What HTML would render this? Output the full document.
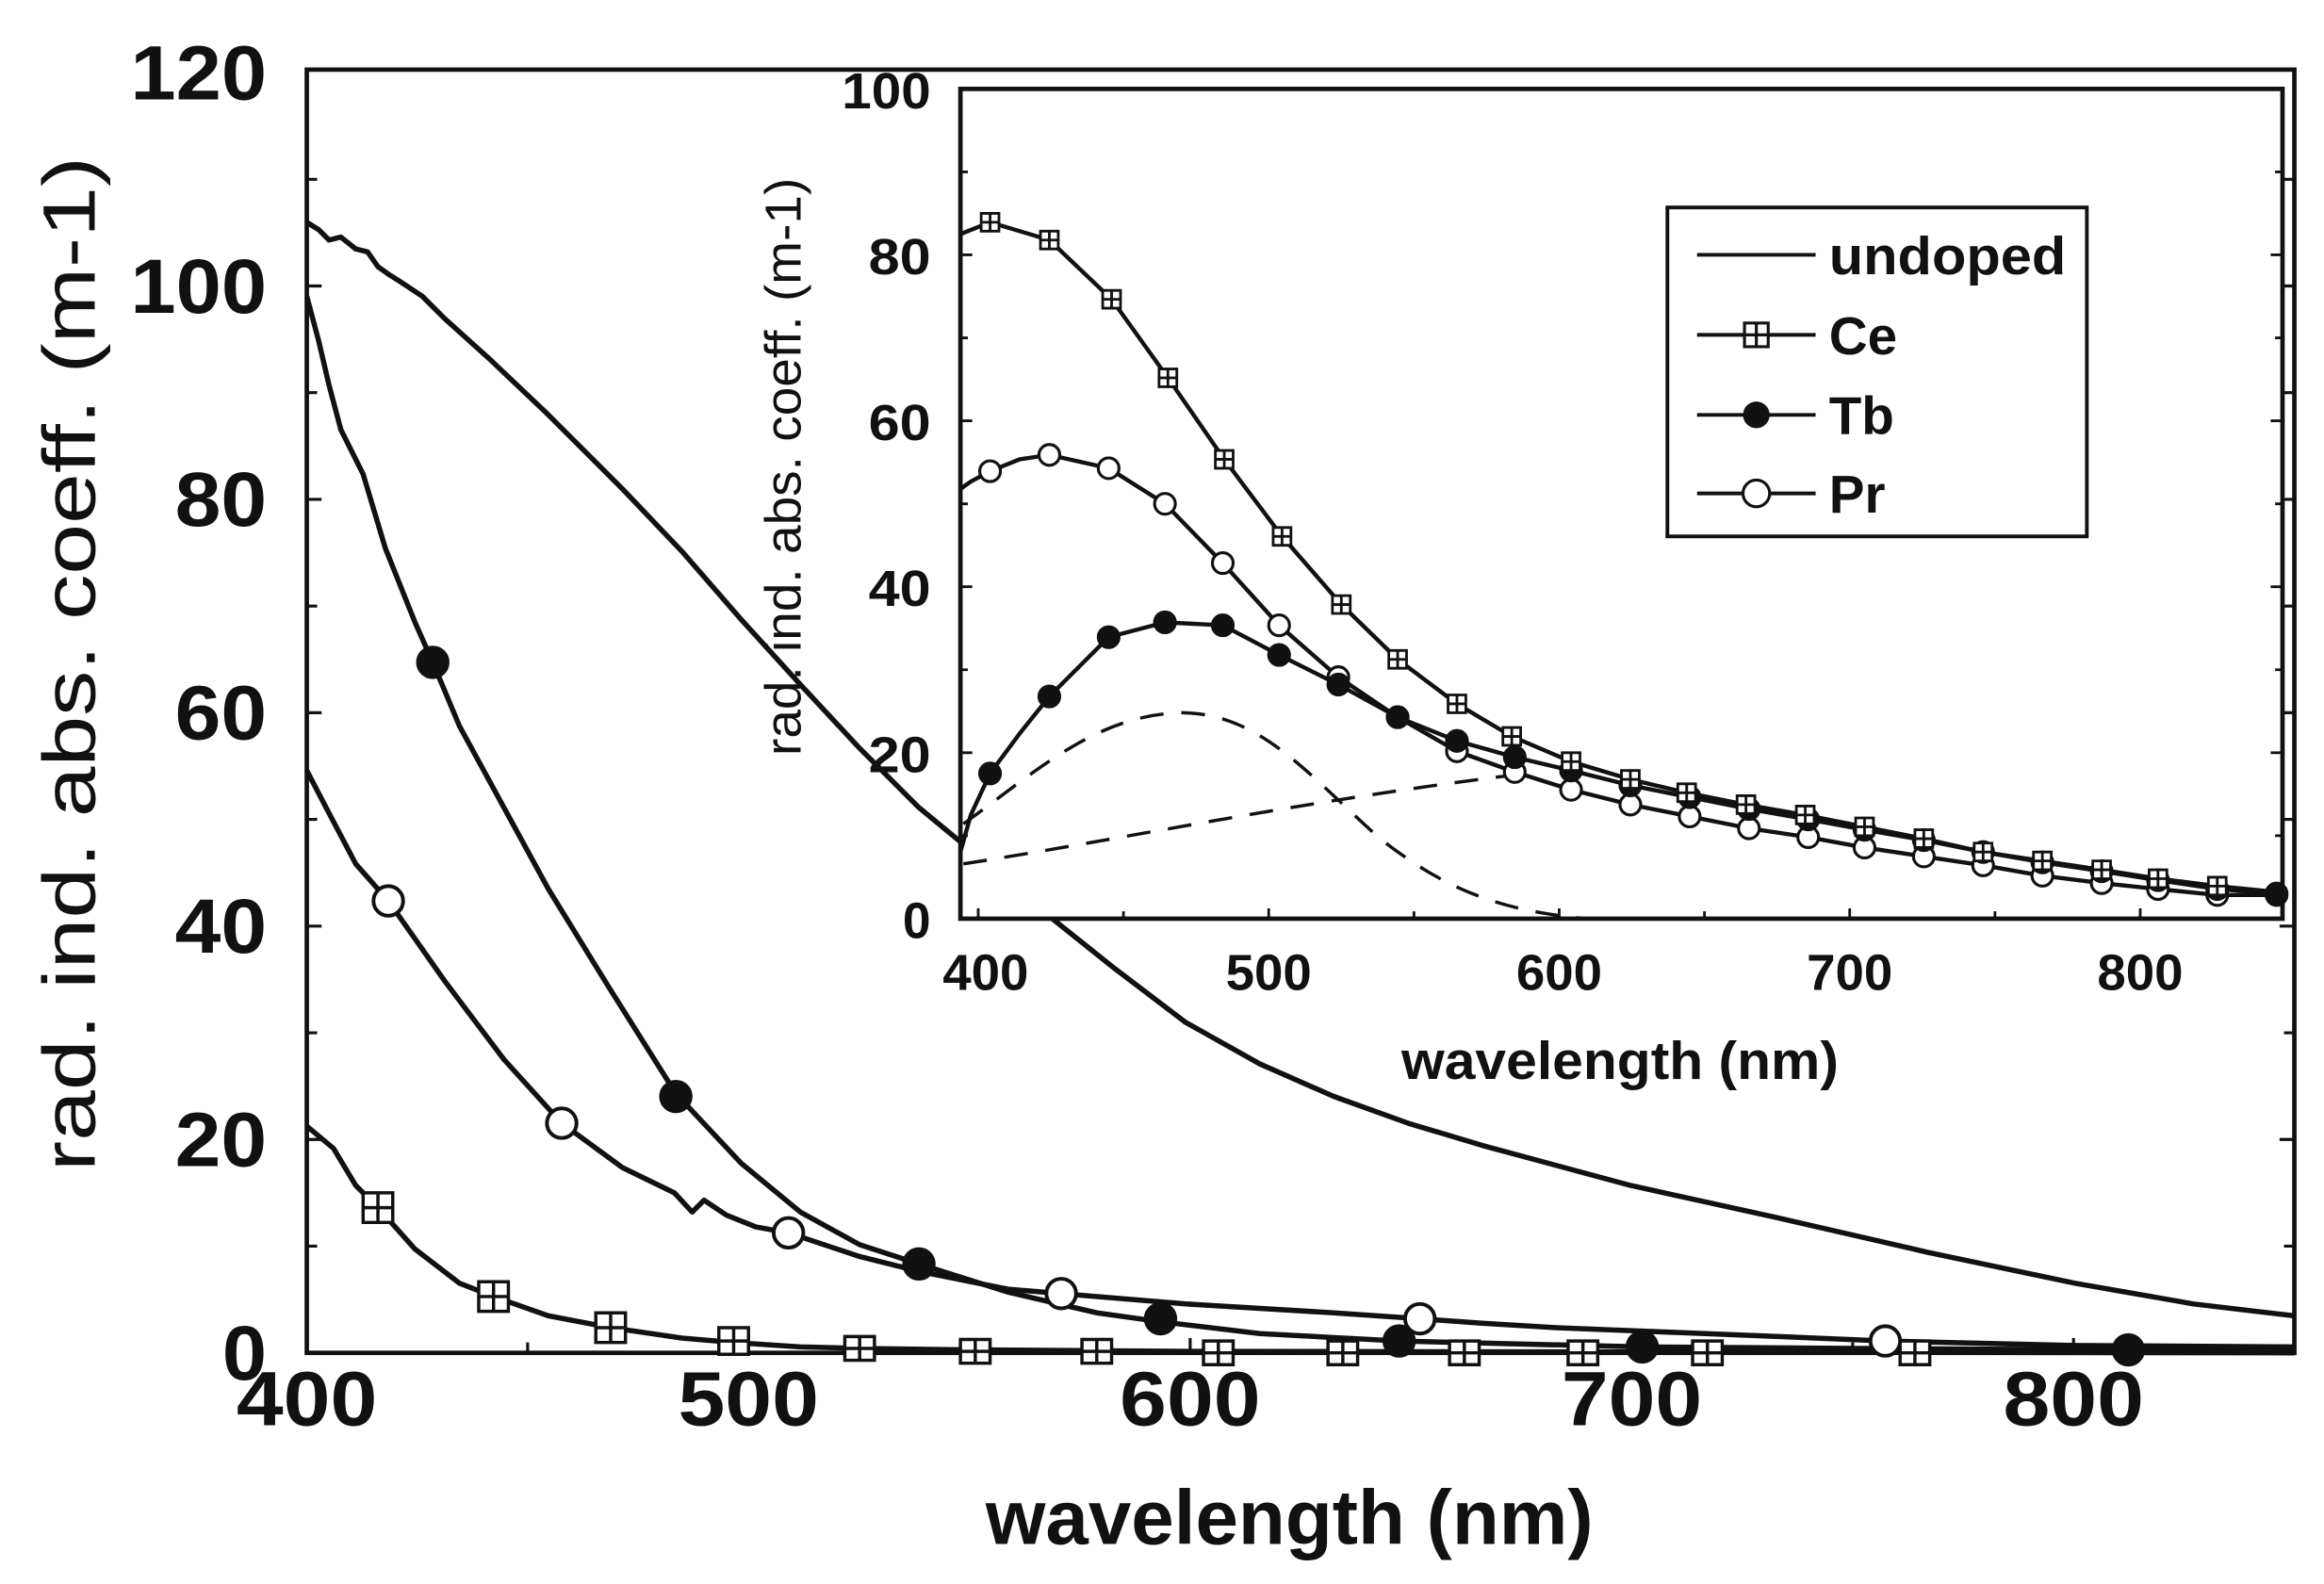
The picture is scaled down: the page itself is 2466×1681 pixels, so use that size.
<!DOCTYPE html>
<html><head><meta charset="utf-8"><style>
html,body{margin:0;padding:0;background:#fff;}
svg{display:block;}
text{font-family:"Liberation Sans",Arial,sans-serif;font-weight:bold;fill:#111;}
</style></head><body>
<svg width="2466" height="1681" viewBox="0 0 1568 1069" preserveAspectRatio="none" xmlns="http://www.w3.org/2000/svg">
<rect width="1568" height="1069" fill="#fff"/>
<rect x="207" y="47" width="1341" height="866" fill="none" stroke="#111" stroke-width="3"/>
<g stroke="#111" stroke-width="2">
<path d="M207,913h10M207,841h7M207,769h10M207,697h7M207,625h10M207,553h7M207,481h10M207,409h7M207,337h10M207,265h7M207,193h10M207,121h7
M1548,913h-10M1548,841h-7M1548,769h-10M1548,697h-7M1548,625h-10M1548,553h-7M1548,481h-10M1548,409h-7M1548,337h-10M1548,265h-7M1548,193h-10M1548,121h-7
M356,913v-7M505,913v-10M654,913v-7M803,913v-10M952,913v-7M1101,913v-10M1250,913v-7M1399,913v-10"/>
</g>
<g font-size="52" text-anchor="end">
<text x="180" y="931" textLength="30" lengthAdjust="spacingAndGlyphs">0</text>
<text x="180" y="787" textLength="62" lengthAdjust="spacingAndGlyphs">20</text>
<text x="180" y="643" textLength="62" lengthAdjust="spacingAndGlyphs">40</text>
<text x="180" y="499" textLength="62" lengthAdjust="spacingAndGlyphs">60</text>
<text x="180" y="355" textLength="62" lengthAdjust="spacingAndGlyphs">80</text>
<text x="180" y="211" textLength="92" lengthAdjust="spacingAndGlyphs">100</text>
<text x="180" y="67" textLength="92" lengthAdjust="spacingAndGlyphs">120</text>
</g>
<g font-size="52" text-anchor="middle">
<text x="207" y="962" textLength="95" lengthAdjust="spacingAndGlyphs">400</text>
<text x="505" y="962" textLength="95" lengthAdjust="spacingAndGlyphs">500</text>
<text x="803" y="962" textLength="95" lengthAdjust="spacingAndGlyphs">600</text>
<text x="1101" y="962" textLength="95" lengthAdjust="spacingAndGlyphs">700</text>
<text x="1399" y="962" textLength="95" lengthAdjust="spacingAndGlyphs">800</text>
</g>
<text x="870" y="1042" font-size="52" text-anchor="middle" textLength="410" lengthAdjust="spacingAndGlyphs">wavelength (nm)</text>
<text transform="translate(64,448) rotate(-90)" font-size="50" text-anchor="middle" style="font-weight:normal" textLength="685" lengthAdjust="spacingAndGlyphs">rad. ind. abs. coeff. (m-1)</text>

<g fill="none" stroke="#111" stroke-width="3.5" stroke-linejoin="round">
<path d="M207,150 L215,155 222,162 230,160 240,168 248,170 255,180 262,185 270,190 285,200 300,215 330,242 370,280 420,330 460,372 500,418 540,462 580,505 620,545 660,578 700,612 750,652 800,690 850,718 900,740 950,758 1000,773 1100,800 1200,822 1300,845 1400,866 1480,880 1548,888"/>
<path d="M207,200 L215,230 222,260 230,290 245,320 260,370 280,420 292,447 310,490 340,545 370,600 410,665 456,738 500,785 540,818 580,840 620,853 680,872 740,886 783,892 850,900 944,905 1108,909 1250,910 1436,911 1548,911"/>
<path d="M207,520 L220,545 240,583 262,608 300,662 340,715 379,758 420,788 455,805 467,818 475,810 490,820 510,828 532,832 580,848 620,858 680,870 716,873 800,880 900,886 958,890 1000,893 1050,896 1100,898 1200,902 1272,905 1400,908 1548,909"/>
<path d="M207,760 L225,775 240,800 255,815 280,843 310,866 333,875 370,888 412,896 460,903 495,906 540,909 580,910 658,911 800,912 1548,913"/>
</g>
<g stroke="#111" stroke-width="2.5">
<g fill="#111">
<circle cx="292" cy="447" r="10"/><circle cx="456" cy="740" r="10"/><circle cx="620" cy="853" r="10"/>
<circle cx="783" cy="890" r="10"/><circle cx="944" cy="905" r="10"/><circle cx="1108" cy="909" r="10"/><circle cx="1436" cy="911" r="10"/>
</g>
<g fill="#fff">
<circle cx="262" cy="608" r="10"/><circle cx="379" cy="758" r="10"/><circle cx="532" cy="832" r="10"/>
<circle cx="716" cy="873" r="10"/><circle cx="958" cy="890" r="10"/><circle cx="1272" cy="905" r="10"/>
</g>
</g>
<g fill="#fff" stroke="#111" stroke-width="2.2">
<path d="M245,805h20v20h-20zM255,805v20M245,815h20"/>
<path d="M323,865h20v20h-20zM333,865v20M323,875h20"/>
<path d="M402,886h20v20h-20zM412,886v20M402,896h20"/>
<path d="M485,896h20v18h-20zM495,896v18M485,905h20"/>
<path d="M570,902h20v16h-20zM580,902v16M570,910h20"/>
<path d="M648,904h20v16h-20zM658,904v16M648,912h20"/>
<path d="M730,904h20v16h-20zM740,904v16M730,912h20"/>
<path d="M812,905h20v16h-20zM822,905v16M812,913h20"/>
<path d="M896,905h20v16h-20zM906,905v16M896,913h20"/>
<path d="M978,905h20v16h-20zM988,905v16M978,913h20"/>
<path d="M1058,905h20v16h-20zM1068,905v16M1058,913h20"/>
<path d="M1142,905h20v16h-20zM1152,905v16M1142,913h20"/>
<path d="M1282,905h20v16h-20zM1292,905v16M1282,913h20"/>
</g>

<rect x="648" y="60" width="892" height="560" fill="#fff" stroke="#111" stroke-width="3"/>
<g stroke="#111" stroke-width="1.8">
<path d="M648,620h8M648,564h5M648,508h8M648,452h5M648,396h8M648,340h5M648,284h8M648,228h5M648,172h8M648,116h5
M1540,564h-5M1540,508h-8M1540,452h-5M1540,396h-8M1540,340h-5M1540,284h-8M1540,228h-5M1540,172h-8M1540,116h-5
M660,620v-7M758,620v-5M856,620v-7M954,620v-5M1052,620v-7M1150,620v-5M1248,620v-7M1346,620v-5M1444,620v-7"/>
</g>
<g font-size="34" text-anchor="end">
<text x="628" y="633">0</text>
<text x="628" y="521" textLength="42" lengthAdjust="spacingAndGlyphs">20</text>
<text x="628" y="409" textLength="42" lengthAdjust="spacingAndGlyphs">40</text>
<text x="628" y="297" textLength="42" lengthAdjust="spacingAndGlyphs">60</text>
<text x="628" y="185" textLength="42" lengthAdjust="spacingAndGlyphs">80</text>
<text x="628" y="73" textLength="60" lengthAdjust="spacingAndGlyphs">100</text>
</g>
<g font-size="34" text-anchor="middle">
<text x="665" y="668" textLength="58" lengthAdjust="spacingAndGlyphs">400</text>
<text x="856" y="668" textLength="58" lengthAdjust="spacingAndGlyphs">500</text>
<text x="1052" y="668" textLength="58" lengthAdjust="spacingAndGlyphs">600</text>
<text x="1248" y="668" textLength="58" lengthAdjust="spacingAndGlyphs">700</text>
<text x="1444" y="668" textLength="58" lengthAdjust="spacingAndGlyphs">800</text>
</g>
<text x="1093" y="728" font-size="36" text-anchor="middle" textLength="295" lengthAdjust="spacingAndGlyphs">wavelength (nm)</text>
<text transform="translate(540,315) rotate(-90)" font-size="34" text-anchor="middle" style="font-weight:normal" textLength="390" lengthAdjust="spacingAndGlyphs">rad. ind. abs. coeff. (m-1)</text>

<g fill="none" stroke="#111" stroke-width="2.2" stroke-dasharray="16,12">
<path d="M650,556 C700,520 740,482 798,481 C850,482 880,520 930,565 C980,605 1020,615 1070,620"/>
<path d="M650,583 C760,566 880,540 1030,522"/>
</g>
<g fill="none" stroke="#111" stroke-width="2.8" stroke-linejoin="round">
<path d="M648,158 L668,150 688,156 708,162 750,202 788,255 826,310 865,362 905,408 943,445 983,475 1020,497 1060,514 1100,526 1138,535 1178,543 1218,550 1258,558 1298,566 1338,575 1378,581 1418,587 1456,593 1496,598 1536,602"/>
<path d="M648,330 L655,325 668,318 688,310 708,307 748,316 786,340 825,380 863,422 903,457 943,484 983,507 1022,521 1060,533 1100,543 1140,551 1180,559 1220,565 1258,572 1298,578 1338,584 1378,591 1418,596 1456,600 1496,604 1536,604"/>
<path d="M648,575 L655,550 668,522 688,495 708,470 748,430 786,420 825,422 863,442 903,462 943,484 983,500 1022,511 1060,520 1100,530 1140,538 1180,546 1220,553 1258,560 1298,567 1338,575 1378,582 1418,588 1456,594 1496,600 1536,603"/>
</g>
<g stroke="#111" stroke-width="2">
<g fill="#fff">
<circle cx="668" cy="318" r="7"/><circle cx="708" cy="307" r="7"/><circle cx="748" cy="316" r="7"/><circle cx="786" cy="340" r="7"/><circle cx="825" cy="380" r="7"/><circle cx="863" cy="422" r="7"/><circle cx="903" cy="457" r="7"/><circle cx="943" cy="484" r="7"/><circle cx="983" cy="507" r="7"/><circle cx="1022" cy="521" r="7"/><circle cx="1060" cy="533" r="7"/><circle cx="1100" cy="543" r="7"/><circle cx="1140" cy="551" r="7"/><circle cx="1180" cy="559" r="7"/><circle cx="1220" cy="565" r="7"/><circle cx="1258" cy="572" r="7"/><circle cx="1298" cy="578" r="7"/><circle cx="1338" cy="584" r="7"/><circle cx="1378" cy="591" r="7"/><circle cx="1418" cy="596" r="7"/><circle cx="1456" cy="600" r="7"/><circle cx="1496" cy="604" r="7"/><circle cx="1536" cy="604" r="7"/>
</g>
<g fill="#111">
<circle cx="668" cy="522" r="7"/><circle cx="708" cy="470" r="7"/><circle cx="748" cy="430" r="7"/><circle cx="786" cy="420" r="7"/><circle cx="825" cy="422" r="7"/><circle cx="863" cy="442" r="7"/><circle cx="903" cy="462" r="7"/><circle cx="943" cy="484" r="7"/><circle cx="983" cy="500" r="7"/><circle cx="1022" cy="511" r="7"/><circle cx="1060" cy="520" r="7"/><circle cx="1100" cy="530" r="7"/><circle cx="1140" cy="538" r="7"/><circle cx="1180" cy="546" r="7"/><circle cx="1220" cy="553" r="7"/><circle cx="1258" cy="560" r="7"/><circle cx="1298" cy="567" r="7"/><circle cx="1338" cy="575" r="7"/><circle cx="1378" cy="582" r="7"/><circle cx="1418" cy="588" r="7"/><circle cx="1456" cy="594" r="7"/><circle cx="1496" cy="600" r="7"/><circle cx="1536" cy="603" r="7"/>
</g>
</g>
<g fill="#fff" stroke="#111" stroke-width="1.8">
<path d="M662,144h12v12h-12zM668,144v12M662,150h12"/>
<path d="M702,156h12v12h-12zM708,156v12M702,162h12"/>
<path d="M744,196h12v12h-12zM750,196v12M744,202h12"/>
<path d="M782,249h12v12h-12zM788,249v12M782,255h12"/>
<path d="M820,304h12v12h-12zM826,304v12M820,310h12"/>
<path d="M859,356h12v12h-12zM865,356v12M859,362h12"/>
<path d="M899,402h12v12h-12zM905,402v12M899,408h12"/>
<path d="M937,439h12v12h-12zM943,439v12M937,445h12"/>
<path d="M977,469h12v12h-12zM983,469v12M977,475h12"/>
<path d="M1014,491h12v12h-12zM1020,491v12M1014,497h12"/>
<path d="M1054,508h12v12h-12zM1060,508v12M1054,514h12"/>
<path d="M1094,520h12v12h-12zM1100,520v12M1094,526h12"/>
<path d="M1132,529h12v12h-12zM1138,529v12M1132,535h12"/>
<path d="M1172,537h12v12h-12zM1178,537v12M1172,543h12"/>
<path d="M1212,544h12v12h-12zM1218,544v12M1212,550h12"/>
<path d="M1252,552h12v12h-12zM1258,552v12M1252,558h12"/>
<path d="M1292,560h12v12h-12zM1298,560v12M1292,566h12"/>
<path d="M1332,569h12v12h-12zM1338,569v12M1332,575h12"/>
<path d="M1372,575h12v12h-12zM1378,575v12M1372,581h12"/>
<path d="M1412,581h12v12h-12zM1418,581v12M1412,587h12"/>
<path d="M1450,587h12v12h-12zM1456,587v12M1450,593h12"/>
<path d="M1490,592h12v12h-12zM1496,592v12M1490,598h12"/>
</g>

<rect x="1125" y="140" width="283" height="222" fill="#fff" stroke="#111" stroke-width="2.5"/>
<g stroke="#111" stroke-width="2.5" fill="none">
<path d="M1145,172h80M1145,226h80M1145,280h80M1145,333h80"/>
</g>
<path d="M1177,218h16v16h-16zM1185,218v16M1177,226h16" fill="#fff" stroke="#111" stroke-width="2"/>
<circle cx="1185" cy="280" r="9" fill="#111"/>
<circle cx="1185" cy="333" r="9" fill="#fff" stroke="#111" stroke-width="2"/>
<g font-size="36">
<text x="1234" y="185" textLength="160" lengthAdjust="spacingAndGlyphs">undoped</text>
<text x="1234" y="239">Ce</text>
<text x="1234" y="293">Tb</text>
<text x="1234" y="346">Pr</text>
</g>
</svg>
</body></html>
